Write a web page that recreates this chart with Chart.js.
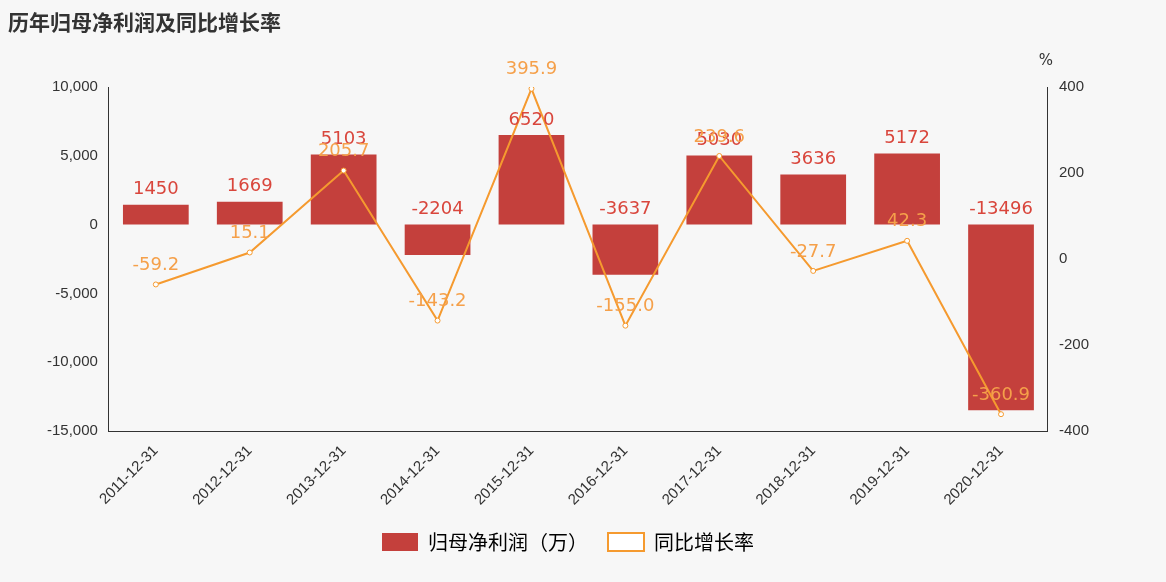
<!DOCTYPE html>
<html><head><meta charset="utf-8">
<script src="https://cdn.jsdelivr.net/npm/chart.js@4"></script>
<style>
html,body{margin:0;background:#f7f7f7;}
#wrap{position:relative;width:1166px;height:582px;}
#title{position:absolute;left:8px;top:6px;font:bold 21px "Noto Sans CJK SC";color:#333;}
</style></head><body>
<div id="wrap"><div id="title">历年归母净利润及同比增长率</div><canvas id="c" width="1166" height="582"></canvas></div>
<script>
const dates = ['2011-12-31','2012-12-31','2013-12-31','2014-12-31','2015-12-31','2016-12-31','2017-12-31','2018-12-31','2019-12-31','2020-12-31'];
const profit = [1450, 1669, 5103, -2204, 6520, -3637, 5030, 3636, 5172, -13496];
const growth = [-59.2, 15.1, 205.7, -143.2, 395.9, -155.0, 239.6, -27.7, 42.3, -360.9];

const labelPlugin = {
    id: 'labels',
    afterDatasetsDraw(chart) {
        const c = chart.ctx;
        c.save();
        c.font = '18px "DejaVu Sans"';
        c.textAlign = 'center';
        c.textBaseline = 'bottom';
        const y0 = chart.scales.y.getPixelForValue(0);
        chart.getDatasetMeta(0).data.forEach((el, i) => {
            c.fillStyle = '#d9463c';
            c.fillText(String(profit[i]), el.x, Math.min(el.y, y0) - 6);
        });
        chart.getDatasetMeta(1).data.forEach((el, i) => {
            c.fillStyle = '#f5a04a';
            c.fillText(growth[i].toFixed(1), el.x, el.y - 10);
        });
        c.font = '15px "DejaVu Sans"';
        c.fillStyle = '#333';
        c.fillText('%', chart.scales.y1.left - 2, chart.scales.y1.top - 18);
        c.restore();
    }
};

new Chart(document.getElementById('c'), {
    data: {
        labels: dates,
        datasets: [
            {
                type: 'bar',
                label: '归母净利润（万）',
                data: profit,
                backgroundColor: '#c4403c',
                categoryPercentage: 0.7,
                barPercentage: 1,
                yAxisID: 'y',
                order: 2
            },
            {
                type: 'line',
                label: '同比增长率',
                data: growth,
                borderColor: '#f59a2f',
                backgroundColor: '#fff',
                borderWidth: 2,
                pointRadius: 2.5,
                pointBorderWidth: 1,
                pointStyle: 'circle',
                tension: 0,
                yAxisID: 'y1',
                order: 1
            }
        ]
    },
    options: {
        responsive: false,
        animation: false,
        layout: { padding: { top: 87, left: 44, right: 74, bottom: 20 } },
        plugins: {
            legend: {
                position: 'bottom',
                labels: {
                    font: { size: 20, family: '"Noto Sans CJK SC"' },
                    color: '#333',
                    boxWidth: 36, boxHeight: 18,
                    padding: 20,
                    generateLabels() {
                        return [
                            { text: '归母净利润（万）', fillStyle: '#c4403c', strokeStyle: '#c4403c', lineWidth: 0, datasetIndex: 0 },
                            { text: '同比增长率', fillStyle: '#fff', strokeStyle: '#f59a2f', lineWidth: 2, datasetIndex: 1 }
                        ];
                    }
                }
            },
            tooltip: { enabled: false }
        },
        scales: {
            x: {
                grid: { display: false },
                border: { color: '#333' },
                ticks: { color: '#333', font: { size: 15 }, maxRotation: 45, minRotation: 45 }
            },
            y: {
                position: 'left',
                min: -15000, max: 10000,
                grid: { display: false },
                border: { color: '#333' },
                ticks: { stepSize: 5000, color: '#333', font: { size: 15 },
                    callback: v => v.toLocaleString('en-US') }
            },
            y1: {
                position: 'right',
                min: -400, max: 400,
                grid: { display: false },
                border: { color: '#333' },
                ticks: { stepSize: 200, color: '#333', font: { size: 15 } }
            }
        }
    },
    plugins: [labelPlugin]
});
</script>
</body></html>
